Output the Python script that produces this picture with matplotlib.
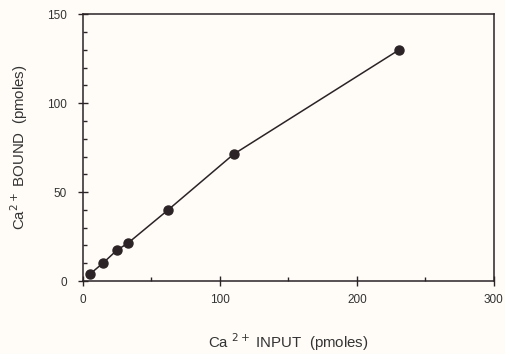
import matplotlib
matplotlib.use("Agg")
import matplotlib.pyplot as plt
from matplotlib.ticker import MultipleLocator

plt.rcParams['font.family'] = ['Liberation Sans', 'DejaVu Sans']

# Ca2+ input vs bound (pmoles)
ca_input = [5, 14.6, 24.8, 32.8, 62, 110, 230.5]
ca_bound = [3.9, 10.1, 17.4, 21.3, 39.9, 71.3, 129.8]

x_ticks = [0, 100, 200, 300]
y_ticks = [0, 50, 100, 150]

ink = '#2b2326'
bg = '#fffcf8'

fig = plt.figure(figsize=(5.06, 3.54), dpi=100, facecolor=bg)
ax = fig.add_axes([0.164, 0.206, 0.812, 0.754], facecolor=bg)

ax.plot(ca_input, ca_bound, '-o', color=ink, lw=1.1, ms=6.5)

ax.set_xlim(0, 300)
ax.set_ylim(0, 150)
ax.set_xticks(x_ticks)
ax.set_yticks(y_ticks)
ax.xaxis.set_minor_locator(MultipleLocator(50))
ax.yaxis.set_minor_locator(MultipleLocator(10))

ax.tick_params(which='major', direction='inout', length=7, width=1,
               color=ink, labelcolor='#333', labelsize=8.5)
ax.tick_params(axis='x', which='major', pad=6)
ax.tick_params(axis='y', which='major', pad=8)
ax.tick_params(which='minor', direction='in', length=3, width=1, color=ink)

for s in ax.spines.values():
    s.set_color(ink)
    s.set_linewidth(1.1)

ax.set_xlabel('Ca $^{2+}$ INPUT  (pmoles)', fontsize=10.8, color='#333', labelpad=18)
ax.set_ylabel('Ca$^{2+}$ BOUND  (pmoles)', fontsize=10.8, color='#333', labelpad=12)

fig.savefig('out.png', dpi=100, facecolor=bg)
